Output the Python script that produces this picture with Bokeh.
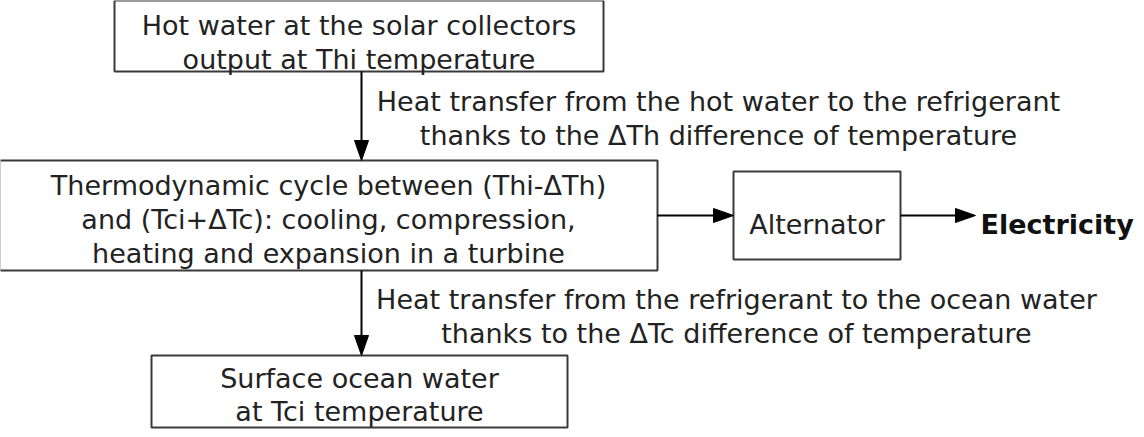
from bokeh.plotting import figure
from bokeh.models import Range1d
from bokeh.core.properties import value
from bokeh.embed import file_html
from bokeh.resources import INLINE

# ---- content ----
box_lines = [
    ["Hot water at the solar collectors", "output at Thi temperature"],
    ["Thermodynamic cycle between (Thi-\u0394Th)", "and (Tci+\u0394Tc): cooling, compression,", "heating and expansion in a turbine"],
    ["Alternator"],
    ["Surface ocean water", "at Tci temperature"],
]
annot1_lines = ["Heat transfer from the hot water to the refrigerant", "thanks to the \u0394Th difference of temperature"]
annot2_lines = ["Heat transfer from the refrigerant to the ocean water", "thanks to the \u0394Tc difference of temperature"]
output_label = "Electricity"

# ---- layout (pixel coordinates of the page image) ----
box_left = [122, 7, 741, 159]
box_right = [611, 665, 908, 575]
box_top = [8, 168, 179, 363]
box_bottom = [79, 278, 267, 435]
box_first_baseline = [33, 193, 232, 386]
line_step = 34
box3_step = 33
arrow_x = 369
flow_y = 223
annot_cx = [726, 744]
annot_baseline = [109, 307]
out_x = 988
out_arrow_end = 983
font = "DejaVu Sans"
fs = "27px"
txt_col = "#222222"

W, H = 1136, 429
p = figure(width=W, height=H, output_backend="svg", toolbar_location=None,
           x_range=Range1d(8, 8 + W), y_range=Range1d(8 + H, 8), min_border=0)
p.axis.visible = False
p.grid.visible = False
p.outline_line_color = None
p.background_fill_color = "white"
p.border_fill_color = "white"

# boxes
p.quad(left=box_left, right=box_right, top=box_top, bottom=box_bottom,
       fill_color="white", line_color="#3a3a3a", line_width=2)

# box texts
xs, ys, ts = [], [], []
for i, lines in enumerate(box_lines):
    cx = (box_left[i] + box_right[i]) / 2
    step = box3_step if i == 3 else line_step
    for k, t in enumerate(lines):
        xs.append(cx)
        ys.append(box_first_baseline[i] + k * step)
        ts.append(t)
p.text(x=xs, y=ys, text=ts, text_align="center", text_baseline="alphabetic",
       text_font=value(font), text_font_size=fs, text_color=txt_col)

# annotations next to vertical arrows
a_x, a_y, a_t = [], [], []
for lines, cx, y0 in [(annot1_lines, annot_cx[0], annot_baseline[0]),
                      (annot2_lines, annot_cx[1], annot_baseline[1])]:
    for k, t in enumerate(lines):
        a_x.append(cx)
        a_y.append(y0 + k * line_step)
        a_t.append(t)
p.text(x=a_x, y=a_y, text=a_t, text_align="center", text_baseline="alphabetic",
       text_font=value(font), text_font_size=fs, text_color=txt_col)

# output label
p.text(x=[out_x], y=[box_first_baseline[2]], text=[output_label], text_align="left",
       text_baseline="alphabetic", text_font=value(font), text_font_size=fs,
       text_font_style="bold", text_color="#111111")

# arrows: shaft + filled narrow head
head_len, head_half = 20, 7
shafts_x, shafts_y, heads_x, heads_y = [], [], [], []
def arrow(x0, y0, x1, y1):
    dx, dy = x1 - x0, y1 - y0
    L = (dx * dx + dy * dy) ** 0.5
    ux, uy = dx / L, dy / L
    bx, by = x1 - ux * head_len, y1 - uy * head_len
    shafts_x.append([x0, bx])
    shafts_y.append([y0, by])
    heads_x.append([x1, bx - uy * head_half, bx + uy * head_half])
    heads_y.append([y1, by + ux * head_half, by - ux * head_half])

arrow(arrow_x, box_bottom[0], arrow_x, box_top[1])
arrow(arrow_x, box_bottom[1], arrow_x, box_top[3])
arrow(box_right[1], flow_y, box_left[2], flow_y)
arrow(box_right[2], flow_y, out_arrow_end, flow_y)

p.multi_line(xs=shafts_x, ys=shafts_y, line_color="black", line_width=2)
p.patches(xs=heads_x, ys=heads_y, fill_color="black", line_color="black", line_width=1)

open("out.html", "w").write(file_html(p, INLINE))
